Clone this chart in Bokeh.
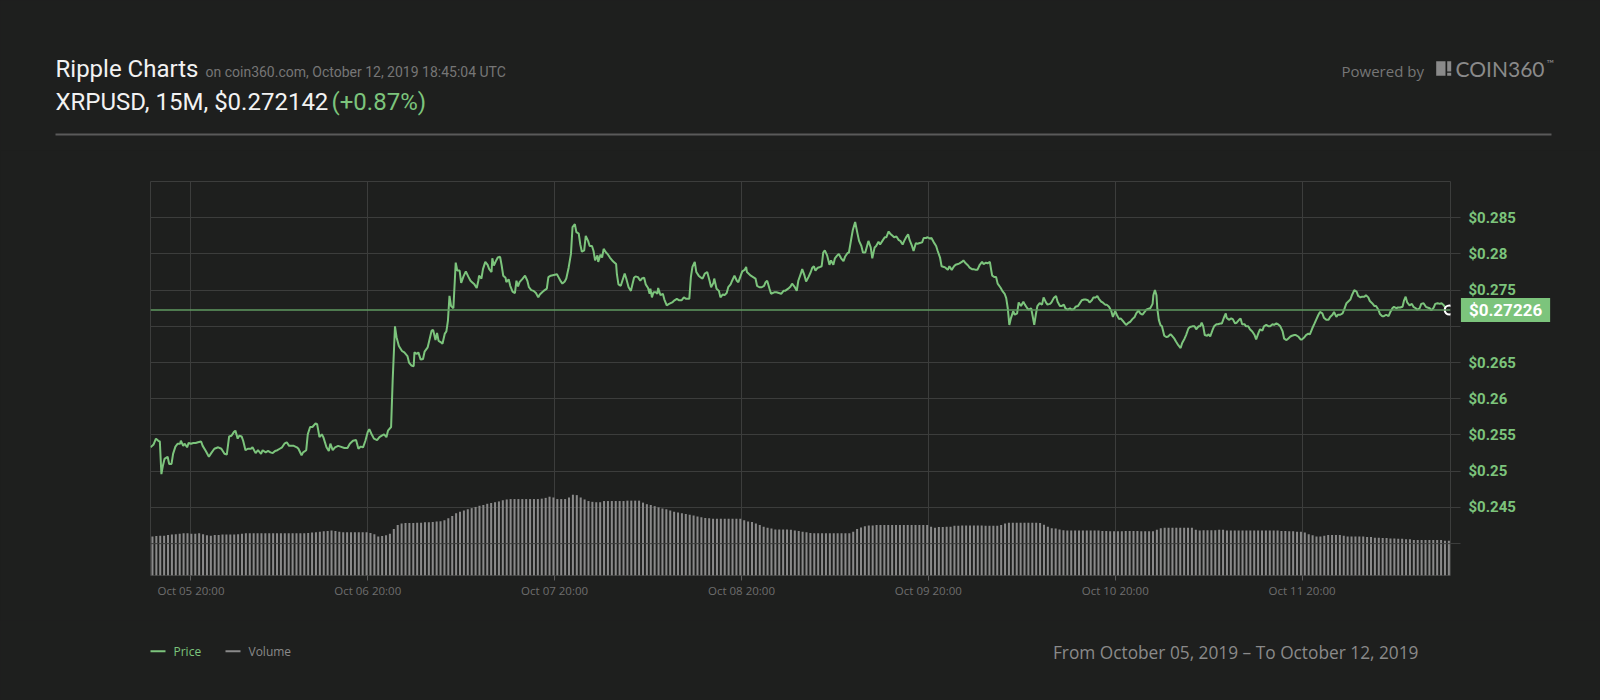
from bokeh.plotting import figure
from bokeh.layouts import column
from bokeh.models import Range1d, FixedTicker, Label, Span
from bokeh.core.properties import value
from bokeh.embed import file_html
from bokeh.resources import INLINE

BG = "#1e1f1e"
GRID = "#3c3d3c"
GREEN = "#7cc47c"
VOLC = "#8a8a8a"

# ---------------- data ----------------
# hours since start of chart window (15M candles, Oct 05 -> Oct 12 2019)
price_hours = [
    0.0, 0.4, 0.7, 1.0, 1.2, 1.4, 1.6, 1.8, 2.2, 2.4, 2.7, 2.9, 3.2, 3.5, 3.8, 3.9, 4.2, 4.4, 4.7, 4.9,
    5.2, 5.5, 5.8, 6.1, 6.5, 6.7, 7.1, 7.5, 7.8, 8.2, 8.7, 9.1, 9.5, 9.8, 10.1, 10.4, 10.7, 10.9, 11.2, 11.4,
    11.7, 11.9, 12.2, 12.5, 12.9, 13.1, 13.5, 13.8, 14.2, 14.4, 14.8, 15.1, 15.4, 15.7, 16.0, 16.3, 16.6, 16.9, 17.2, 17.5,
    17.8, 18.1, 18.4, 18.8, 19.0, 19.4, 19.6, 20.0, 20.2, 20.5, 20.8, 21.2, 21.4, 21.7, 22.0, 22.2, 22.6, 22.9, 23.1, 23.4,
    23.7, 24.1, 24.4, 24.9, 25.3, 25.6, 26.0, 26.4, 26.7, 27.0, 27.3, 27.6, 27.9, 28.1, 28.4, 28.7, 29.1, 29.4, 29.7, 30.0,
    30.3, 30.5, 30.9, 31.1, 31.4, 31.6, 31.9, 32.3, 32.6, 33.0, 33.2, 33.5, 33.8, 33.9, 34.2, 34.4, 34.7, 35.0, 35.2, 35.6,
    35.8, 36.1, 36.3, 36.6, 36.8, 37.0, 37.3, 37.5, 37.8, 38.0, 38.2, 38.4, 38.6, 38.9, 39.2, 39.4, 39.7, 39.9, 40.2, 40.5,
    40.8, 41.1,
    41.3, 41.6, 41.9, 42.1, 42.2, 42.5, 42.7, 43.0, 43.3, 43.5, 43.8, 43.9, 44.1, 44.4, 44.6, 44.9, 45.1, 45.3, 45.6, 45.7,
    46.0, 46.2, 46.5, 46.8, 47.0, 47.2, 47.4, 47.8, 48.1, 48.4, 48.6, 48.9, 49.2, 49.5, 49.8, 50.0, 50.3, 50.5, 50.9, 51.1,
    51.4, 51.8, 52.2, 52.4, 52.7, 52.9, 53.2, 53.4, 53.7, 54.0, 54.2, 54.5, 54.7, 55.0, 55.2, 55.4, 55.7, 55.9, 56.2, 56.4,
    56.7, 56.9, 57.1, 57.4, 57.5, 57.8, 58.0, 58.2, 58.5, 58.7, 59.0, 59.3, 59.5, 59.8, 59.9, 60.1, 60.4, 60.6, 60.9, 61.1,
    61.4, 61.7, 61.9, 62.1, 62.3, 62.6, 62.9, 63.1, 63.4, 63.6, 63.9, 64.1, 64.2, 64.4, 64.6, 64.9, 65.1, 65.2, 65.5, 65.8,
    66.0, 66.3, 66.6, 67.0, 67.3, 67.6, 67.9, 68.2, 68.5, 68.8, 69.2, 69.4, 69.6, 69.9, 70.1, 70.4, 70.6, 70.9, 71.2, 71.5,
    71.8, 72.0, 72.3, 72.4, 72.7, 73.0, 73.2, 73.5, 73.7, 74.0, 74.2, 74.5, 74.7, 75.0, 75.3, 75.5, 75.8, 76.0, 76.3, 76.5,
    76.6, 76.9, 77.1, 77.4, 77.7, 77.9, 78.2, 78.5, 78.8, 79.0, 79.2, 79.5, 79.7, 80.1, 80.4, 80.7, 81.0, 81.3, 81.5, 81.9,
    82.2,
    82.4, 82.7, 83.0, 83.2, 83.5, 83.7, 84.0, 84.2, 84.5, 84.8, 85.0, 85.2, 85.4, 85.7, 86.0, 86.2, 86.4, 86.6, 86.9, 87.2,
    87.4, 87.7, 87.9, 88.2, 88.4, 88.7, 89.0, 89.2, 89.5, 89.7, 90.0, 90.2, 90.5, 90.8, 91.0, 91.3, 91.5, 91.8, 92.0, 92.2,
    92.5, 92.7, 93.0, 93.2, 93.5, 93.7, 94.0, 94.3, 94.5, 94.8, 95.0, 95.3, 95.5, 95.8, 96.1, 96.3, 96.6, 96.8, 97.1, 97.3,
    97.5, 97.8, 98.0, 98.3, 98.5, 98.8, 99.1, 99.3, 99.6, 99.8, 100.1, 100.3, 100.6, 100.9, 101.1, 101.4, 101.6, 101.9, 102.1, 102.4,
    102.6, 102.9, 103.2, 103.4, 103.7, 103.9, 104.2, 104.4, 104.7, 105.0, 105.2, 105.5, 105.7, 106.0, 106.2, 106.5, 106.8, 107.0, 107.3, 107.5,
    107.8, 108.0, 108.1, 108.4, 108.6, 108.8, 109.2, 109.4, 109.7, 109.9, 110.1, 110.3, 110.5, 110.8, 111.0, 111.3, 111.5, 111.8, 112.1, 112.3,
    112.6, 112.8, 113.1, 113.3, 113.5, 113.7, 113.9, 114.2, 114.5, 114.7, 115.0, 115.2, 115.5, 115.7, 116.0, 116.3, 116.5, 116.8, 117.0, 117.3,
    117.5, 117.8, 118.1, 118.3, 118.6, 118.8, 119.1, 119.3, 119.6, 119.9, 120.1, 120.4, 120.6, 120.9, 121.1, 121.4, 121.6, 121.8, 122.1, 122.3,
    122.6, 122.8, 123.1, 123.4, 123.6, 123.9, 124.1, 124.4,
    124.6, 125.0, 125.3, 125.6, 125.8, 126.1, 126.4, 126.6, 126.9, 127.1, 127.4, 127.6, 127.9, 128.1, 128.4, 128.7, 128.8, 129.0, 129.2, 129.3,
    129.5, 129.7, 129.9, 130.2, 130.5, 130.7, 131.0, 131.2, 131.5, 131.7, 132.0, 132.3, 132.5, 132.8, 133.0, 133.3, 133.5, 133.8, 134.1, 134.3,
    134.6, 134.8, 135.0, 135.2, 135.4, 135.7, 135.9, 136.1, 136.4, 136.6, 136.9, 137.1, 137.4, 137.6, 137.9, 138.1, 138.2, 138.5, 138.8, 139.0,
    139.3, 139.5, 139.8, 140.0, 140.2, 140.5, 140.7, 141.0, 141.2, 141.5, 141.8, 142.0, 142.3, 142.5, 142.8, 143.0, 143.3, 143.6, 143.8, 144.1,
    144.3, 144.6, 144.8, 145.1, 145.4, 145.6, 145.9, 146.1, 146.4, 146.6, 146.9, 147.1, 147.4, 147.7, 147.9, 148.2, 148.4, 148.7, 148.9, 149.2,
    149.5, 149.7, 150.0, 150.2, 150.5, 150.7, 151.0, 151.3, 151.5, 151.8, 152.0, 152.3, 152.5, 152.8, 153.1, 153.3, 153.6, 153.8, 154.1, 154.3,
    154.6, 154.9, 155.1, 155.4, 155.6, 155.9, 156.1, 156.4, 156.6, 156.9, 157.2, 157.4, 157.7, 157.9, 158.2, 158.4, 158.7, 159.0, 159.2, 159.5,
    159.7, 160.0, 160.2, 160.5, 160.8, 161.0, 161.2, 161.4, 161.7, 162.0, 162.2, 162.5, 162.7, 163.0, 163.2, 163.5, 163.8, 164.0, 164.3, 164.5,
    164.8, 165.0, 165.3, 165.6, 165.8, 166.1, 166.3, 166.6, 166.8,
]
price_values = [
    0.2533, 0.2537, 0.2545, 0.2542, 0.2541, 0.2496, 0.2508, 0.2517, 0.2520, 0.2510, 0.2510, 0.2524, 0.2534, 0.2538, 0.2538, 0.2542, 0.2535, 0.2538, 0.2533, 0.2539,
    0.2538, 0.2539, 0.2539, 0.2540, 0.2541, 0.2535, 0.2528, 0.2520, 0.2525, 0.2531, 0.2533, 0.2531, 0.2524, 0.2523, 0.2548, 0.2549, 0.2554, 0.2556, 0.2545, 0.2549,
    0.2548, 0.2542, 0.2529, 0.2531, 0.2531, 0.2533, 0.2525, 0.2529, 0.2524, 0.2529, 0.2526, 0.2528, 0.2526, 0.2525, 0.2528, 0.2529, 0.2531, 0.2533, 0.2538, 0.2540,
    0.2535, 0.2535, 0.2535, 0.2533, 0.2531, 0.2522, 0.2526, 0.2529, 0.2551, 0.2561, 0.2561, 0.2566, 0.2565, 0.2547, 0.2551, 0.2547, 0.2533, 0.2528, 0.2538, 0.2529,
    0.2533, 0.2535, 0.2534, 0.2532, 0.2532, 0.2538, 0.2542, 0.2543, 0.2531, 0.2534, 0.2533, 0.2542, 0.2554, 0.2558, 0.2551, 0.2545, 0.2543, 0.2547, 0.2549, 0.2551,
    0.2547, 0.2556, 0.2561, 0.2625, 0.2700, 0.2685, 0.2673, 0.2666, 0.2664, 0.2659, 0.2650, 0.2646, 0.2645, 0.2664, 0.2662, 0.2664, 0.2654, 0.2655, 0.2665, 0.2671,
    0.2680, 0.2694, 0.2695, 0.2681, 0.2691, 0.2680, 0.2678, 0.2676, 0.2690, 0.2693, 0.2708, 0.2742, 0.2728, 0.2725, 0.2788, 0.2777, 0.2777, 0.2760, 0.2769, 0.2776,
    0.2769, 0.2763,
    0.2761, 0.2758, 0.2753, 0.2763, 0.2770, 0.2766, 0.2779, 0.2789, 0.2785, 0.2779, 0.2775, 0.2794, 0.2784, 0.2791, 0.2795, 0.2796, 0.2784, 0.2770, 0.2767, 0.2761,
    0.2765, 0.2756, 0.2748, 0.2746, 0.2763, 0.2755, 0.2761, 0.2766, 0.2770, 0.2763, 0.2754, 0.2750, 0.2749, 0.2746, 0.2740, 0.2744, 0.2747, 0.2749, 0.2752, 0.2768,
    0.2770, 0.2771, 0.2772, 0.2768, 0.2762, 0.2759, 0.2762, 0.2766, 0.2781, 0.2800, 0.2837, 0.2841, 0.2830, 0.2828, 0.2813, 0.2803, 0.2805, 0.2825, 0.2818, 0.2811,
    0.2811, 0.2804, 0.2791, 0.2798, 0.2789, 0.2799, 0.2795, 0.2807, 0.2802, 0.2800, 0.2795, 0.2791, 0.2789, 0.2786, 0.2772, 0.2758, 0.2756, 0.2763, 0.2773, 0.2766,
    0.2754, 0.2749, 0.2758, 0.2767, 0.2769, 0.2768, 0.2763, 0.2766, 0.2767, 0.2758, 0.2753, 0.2745, 0.2752, 0.2740, 0.2747, 0.2747, 0.2745, 0.2753, 0.2743, 0.2745,
    0.2737, 0.2729, 0.2731, 0.2733, 0.2736, 0.2738, 0.2736, 0.2736, 0.2740, 0.2738, 0.2738, 0.2768, 0.2782, 0.2789, 0.2775, 0.2770, 0.2768, 0.2766, 0.2773, 0.2775,
    0.2763, 0.2754, 0.2760, 0.2766, 0.2752, 0.2749, 0.2740, 0.2744, 0.2743, 0.2746, 0.2754, 0.2758, 0.2763, 0.2770, 0.2763, 0.2761, 0.2770, 0.2776, 0.2778, 0.2782,
    0.2775, 0.2772, 0.2770, 0.2768, 0.2766, 0.2756, 0.2754, 0.2754, 0.2756, 0.2761, 0.2763, 0.2752, 0.2745, 0.2747, 0.2747, 0.2746, 0.2745, 0.2749, 0.2749, 0.2752,
    0.2755,
    0.2759, 0.2755, 0.2749, 0.2763, 0.2772, 0.2779, 0.2770, 0.2762, 0.2768, 0.2775, 0.2781, 0.2783, 0.2777, 0.2781, 0.2782, 0.2783, 0.2802, 0.2805, 0.2798, 0.2785,
    0.2791, 0.2785, 0.2794, 0.2798, 0.2800, 0.2794, 0.2790, 0.2796, 0.2801, 0.2802, 0.2821, 0.2833, 0.2844, 0.2828, 0.2818, 0.2811, 0.2802, 0.2802, 0.2810, 0.2818,
    0.2809, 0.2794, 0.2809, 0.2811, 0.2817, 0.2813, 0.2818, 0.2823, 0.2823, 0.2831, 0.2828, 0.2825, 0.2823, 0.2824, 0.2819, 0.2818, 0.2813, 0.2818, 0.2824, 0.2827,
    0.2819, 0.2811, 0.2804, 0.2815, 0.2814, 0.2815, 0.2816, 0.2822, 0.2822, 0.2823, 0.2821, 0.2822, 0.2816, 0.2811, 0.2804, 0.2795, 0.2783, 0.2782, 0.2781, 0.2778,
    0.2783, 0.2778, 0.2783, 0.2785, 0.2786, 0.2787, 0.2789, 0.2791, 0.2787, 0.2784, 0.2781, 0.2779, 0.2779, 0.2778, 0.2778, 0.2785, 0.2789, 0.2786, 0.2788, 0.2787,
    0.2789, 0.2776, 0.2770, 0.2768, 0.2768, 0.2759, 0.2753, 0.2749, 0.2745, 0.2739, 0.2725, 0.2702, 0.2711, 0.2721, 0.2716, 0.2718, 0.2733, 0.2728, 0.2734, 0.2730,
    0.2725, 0.2723, 0.2725, 0.2714, 0.2702, 0.2716, 0.2728, 0.2732, 0.2730, 0.2740, 0.2733, 0.2730, 0.2731, 0.2733, 0.2739, 0.2742, 0.2734, 0.2728, 0.2728, 0.2730,
    0.2725, 0.2723, 0.2725, 0.2723, 0.2724, 0.2727, 0.2728, 0.2731, 0.2736, 0.2737, 0.2737, 0.2736, 0.2733, 0.2736, 0.2740, 0.2740, 0.2742, 0.2738, 0.2734, 0.2733,
    0.2730, 0.2730, 0.2727, 0.2721, 0.2713, 0.2721, 0.2716, 0.2710,
    0.2711, 0.2706, 0.2702, 0.2705, 0.2706, 0.2710, 0.2713, 0.2718, 0.2722, 0.2718, 0.2716, 0.2719, 0.2723, 0.2724, 0.2725, 0.2731, 0.2743, 0.2750, 0.2743, 0.2725,
    0.2709, 0.2702, 0.2700, 0.2687, 0.2685, 0.2686, 0.2689, 0.2687, 0.2683, 0.2679, 0.2674, 0.2670, 0.2677, 0.2683, 0.2688, 0.2697, 0.2699, 0.2700, 0.2700, 0.2696,
    0.2700, 0.2700, 0.2705, 0.2700, 0.2688, 0.2687, 0.2689, 0.2686, 0.2695, 0.2700, 0.2703, 0.2703, 0.2704, 0.2704, 0.2713, 0.2718, 0.2712, 0.2709, 0.2711, 0.2710,
    0.2704, 0.2705, 0.2709, 0.2711, 0.2703, 0.2703, 0.2700, 0.2700, 0.2696, 0.2693, 0.2688, 0.2682, 0.2691, 0.2696, 0.2694, 0.2700, 0.2702, 0.2700, 0.2700, 0.2703,
    0.2702, 0.2704, 0.2703, 0.2700, 0.2693, 0.2683, 0.2681, 0.2683, 0.2686, 0.2687, 0.2688, 0.2688, 0.2686, 0.2682, 0.2682, 0.2685, 0.2688, 0.2690, 0.2689, 0.2697,
    0.2704, 0.2709, 0.2716, 0.2720, 0.2718, 0.2712, 0.2709, 0.2709, 0.2713, 0.2716, 0.2720, 0.2713, 0.2716, 0.2716, 0.2718, 0.2723, 0.2732, 0.2734, 0.2737, 0.2743,
    0.2750, 0.2748, 0.2742, 0.2740, 0.2741, 0.2741, 0.2743, 0.2740, 0.2735, 0.2732, 0.2728, 0.2728, 0.2723, 0.2717, 0.2714, 0.2714, 0.2716, 0.2714, 0.2719, 0.2725,
    0.2727, 0.2725, 0.2726, 0.2726, 0.2727, 0.2736, 0.2741, 0.2733, 0.2729, 0.2731, 0.2727, 0.2725, 0.2723, 0.2725, 0.2731, 0.2732, 0.2727, 0.2726, 0.2725, 0.2722,
    0.2726, 0.2731, 0.2732, 0.2731, 0.2732, 0.2729, 0.2726, 0.2724, 0.27226,
]

# half-hourly volume (relative units)
volume_hours = [0.25 + 0.5 * i for i in range(334)]
volume_values = [
    9.9, 10.0, 10.1, 10.1, 10.3, 10.4, 10.5, 10.6, 10.7, 10.7, 10.6, 10.6, 10.7, 10.5, 10.2, 10.1, 10.3, 10.3, 10.4, 10.4,
    10.4, 10.4, 10.5, 10.6, 10.7, 10.7, 10.7, 10.7, 10.7, 10.7, 10.7, 10.7, 10.7, 10.7, 10.7, 10.7, 10.7, 10.7, 10.7, 10.7,
    10.8, 10.9, 11.0, 11.1, 11.2, 11.3, 11.4, 11.3, 11.1, 11.0, 11.0, 11.0, 11.0, 11.0, 11.0, 11.0, 10.8, 10.5, 9.9, 10.0,
    10.2, 10.6, 11.8, 12.8, 13.2, 13.3, 13.3, 13.3, 13.4, 13.4, 13.5, 13.5, 13.6, 13.7, 13.8, 14.0, 14.5, 15.1, 15.8, 16.2,
    16.5, 16.8, 17.1, 17.4, 17.7, 17.9, 18.2, 18.4, 18.6, 18.8, 19.1, 19.3, 19.4, 19.4, 19.4, 19.4, 19.4, 19.4, 19.4, 19.4,
    19.5, 19.7, 20.0, 19.8, 19.4, 19.4, 19.4, 19.8, 20.5, 20.4, 19.8, 19.3, 18.9, 18.7, 18.6, 18.6, 18.9, 18.9, 18.9, 18.9,
    18.9, 18.9, 19.0, 19.0, 19.0, 19.0, 18.5, 18.1, 17.9, 17.6, 17.3, 17.0, 16.8, 16.5, 16.2, 16.0, 15.8, 15.6, 15.4, 15.2,
    15.0, 14.8, 14.6, 14.5, 14.4, 14.4, 14.4, 14.4, 14.4, 14.4, 14.4, 14.4, 14.0, 13.7, 13.6, 13.2, 12.8, 12.4, 12.1, 11.9,
    11.7, 11.7, 11.7, 11.7, 11.6, 11.4, 11.3, 11.1, 11.0, 10.8, 10.7, 10.7, 10.7, 10.7, 10.7, 10.7, 10.7, 10.7, 10.7, 10.7,
    11.1, 11.8, 12.2, 12.5, 12.7, 12.7, 12.8, 12.8, 12.8, 12.8, 12.8, 12.8, 12.8, 12.8, 12.8, 12.8, 12.8, 12.8, 12.8, 12.8,
    12.4, 12.1, 12.3, 12.3, 12.4, 12.4, 12.6, 12.6, 12.7, 12.7, 12.7, 12.7, 12.7, 12.7, 12.6, 12.6, 12.6, 12.6, 12.8, 13.2,
    13.4, 13.4, 13.4, 13.4, 13.4, 13.4, 13.4, 13.4, 13.3, 12.9, 12.4, 12.0, 11.9, 11.7, 11.5, 11.4, 11.4, 11.4, 11.4, 11.4,
    11.4, 11.4, 11.4, 11.4, 11.3, 11.3, 11.2, 11.2, 11.2, 11.2, 11.3, 11.3, 11.3, 11.3, 11.2, 11.2, 11.2, 11.2, 11.6, 12.0,
    12.1, 12.1, 12.1, 12.1, 12.1, 12.1, 12.1, 12.1, 11.6, 11.4, 11.5, 11.5, 11.5, 11.5, 11.6, 11.6, 11.4, 11.4, 11.4, 11.4,
    11.4, 11.4, 11.4, 11.4, 11.4, 11.4, 11.4, 11.4, 11.4, 11.4, 11.3, 11.3, 11.2, 11.2, 11.1, 11.1, 10.9, 10.5, 10.2, 9.9,
    9.9, 10.1, 10.3, 10.3, 10.3, 10.3, 10.1, 9.9, 9.9, 9.9, 9.9, 9.9, 9.8, 9.8, 9.6, 9.6, 9.5, 9.5, 9.4, 9.4,
    9.3, 9.3, 9.2, 9.2, 9.0, 9.0, 9.0, 9.0, 9.0, 9.0, 9.0, 9.0, 8.8, 8.8,
]

x_tick_hours = [5.2, 27.9, 51.9, 75.9, 99.9, 123.9, 147.9]
x_tick_labels = ["Oct 05 20:00", "Oct 06 20:00", "Oct 07 20:00", "Oct 08 20:00",
                 "Oct 09 20:00", "Oct 10 20:00", "Oct 11 20:00"]
y_ticks = [0.24, 0.245, 0.25, 0.255, 0.26, 0.265, 0.27, 0.275, 0.28, 0.285]
y_tick_labels = ["", "$0.245", "$0.25", "$0.255", "$0.26", "$0.265", "", "$0.275", "$0.28", "$0.285"]
last_price = 0.27226
last_price_label = "$0.27226"

title = "Ripple Charts"
subtitle = "on coin360.com, October 12, 2019 18:45:04 UTC"
pair_line = "XRPUSD, 15M, $0.272142"
change_text = "(+0.87%)"
range_text = "From October 05, 2019 \u2013 To October 12, 2019"

W = 1600


def panel(h, y0, y1):
    f = figure(width=W, height=h, x_range=Range1d(0, W), y_range=Range1d(y1, y0),
               output_backend="svg", toolbar_location=None, x_axis_type=None, y_axis_type=None,
               min_border=0, background_fill_color=BG, border_fill_color=BG, outline_line_color=None)
    f.grid.visible = False
    return f


def txt(f, x, y, s, font, size, color, align="left", style="normal"):
    f.text(x=[x], y=[y], text=[s], text_font=value(font), text_font_size=size,
           text_color=color, text_baseline="middle", text_align=align, text_font_style=style)


# ---------------- header ----------------
hdr = panel(150, 0, 150)
txt(hdr, 55, 68.6, title, "Roboto", "24px", "#f2f2f2")
txt(hdr, 205, 71.3, subtitle, "Roboto", "14px", "#767676")
txt(hdr, 55, 101.5, pair_line, "Roboto", "24px", "#f2f2f2")
txt(hdr, 331, 101.5, change_text, "Roboto", "24px", GREEN)
hdr.segment(x0=[55], y0=[134], x1=[1551], y1=[134], line_color="#5a5a5a", line_width=2)
txt(hdr, 1341, 70, "Powered by", "Open Sans", "15px", "#767676")
hdr.quad(left=[1435.7, 1446.7, 1446.7], right=[1445, 1450.7, 1450.7],
         top=[60.7, 60.7, 72.3], bottom=[75.3, 71, 75.3], fill_color="#8a8a8a", line_color=None)
txt(hdr, 1455, 68.3, "COIN360", "Lato", "21px", "#8a8a8a")
txt(hdr, 1546, 62.5, "\u2122", "Lato", "10px", "#8a8a8a")

# ---------------- chart ----------------
p = figure(width=W, height=470, x_range=Range1d(0, 166.96), y_range=Range1d(0.2356, 0.2900),
           output_backend="svg", toolbar_location=None, y_axis_location="right",
           min_border_left=150, min_border_right=150, min_border_top=31, min_border_bottom=45,
           background_fill_color=BG, border_fill_color=BG, outline_line_color=GRID)
p.extra_y_ranges = {"vol": Range1d(0, 100)}

p.vbar(x=volume_hours, top=volume_values, bottom=0, width=0.26, y_range_name="vol",
       fill_color=VOLC, line_color=None)
p.add_layout(Span(location=0.24, dimension="width", line_color=GRID, line_width=1))
p.add_layout(Span(location=last_price, dimension="width", line_color="#5f9a60", line_width=1.5))
p.line(price_hours, price_values, line_color=GREEN, line_width=2)
p.scatter([price_hours[-1]], [last_price], size=9, fill_color=BG, line_color="white", line_width=2.2)

p.xaxis.ticker = FixedTicker(ticks=x_tick_hours)
p.xaxis.major_label_overrides = dict(zip(x_tick_hours, x_tick_labels))
p.xaxis.axis_line_color = None
p.xaxis.major_tick_in = 0
p.xaxis.major_tick_out = 5
p.xaxis.major_tick_line_color = "#5a5a5a"
p.xaxis.minor_tick_line_color = None
p.xaxis.major_label_text_color = "#6e6e6e"
p.xaxis.major_label_text_font = "Open Sans"
p.xaxis.major_label_text_font_size = "11.5px"
p.xaxis.major_label_standoff = 2

p.yaxis.ticker = FixedTicker(ticks=y_ticks)
p.yaxis.major_label_overrides = dict(zip(y_ticks, y_tick_labels))
p.yaxis.axis_line_color = None
p.yaxis.major_tick_in = 0
p.yaxis.major_tick_out = 10
p.yaxis.major_tick_line_color = GRID
p.yaxis.minor_tick_line_color = None
p.yaxis.major_label_text_color = GREEN
p.yaxis.major_label_text_font = "Roboto"
p.yaxis.major_label_text_font_style = "bold"
p.yaxis.major_label_text_font_size = "15px"
p.yaxis.major_label_standoff = 8

p.xgrid.grid_line_color = GRID
p.ygrid.grid_line_color = GRID

# current-price tag, held by a side panel so it is not clipped to the frame
p.add_layout(Label(x=168.3, y=last_price, text=last_price_label, text_color="white",
                   text_font="Roboto", text_font_style="bold", text_font_size="17px",
                   text_align="left", text_baseline="middle",
                   background_fill_color=GREEN, padding=(8, 2)), "above")

# ---------------- footer ----------------
ftr = panel(80, 620, 700)
ftr.segment(x0=[150], y0=[650.7], x1=[165], y1=[650.7], line_color=GREEN, line_width=2)
txt(ftr, 173, 650.5, "Price", "Open Sans", "12px", GREEN)
ftr.segment(x0=[225], y0=[650.7], x1=[240], y1=[650.7], line_color="#8a8a8a", line_width=2)
txt(ftr, 248, 650.5, "Volume", "Open Sans", "12px", "#8a8a8a")
txt(ftr, 1418, 651.8, range_text, "Open Sans", "17.3px", "#8a8a8a", align="right")

layout = column(column(hdr), column(p), column(ftr), spacing=0, styles={"background-color": BG})
html = file_html(layout, INLINE)
html = html.replace("</head>", "<style>html, body { background-color: %s !important; margin: 0 !important; }</style></head>" % BG, 1)
open("out.html", "w").write(html)
